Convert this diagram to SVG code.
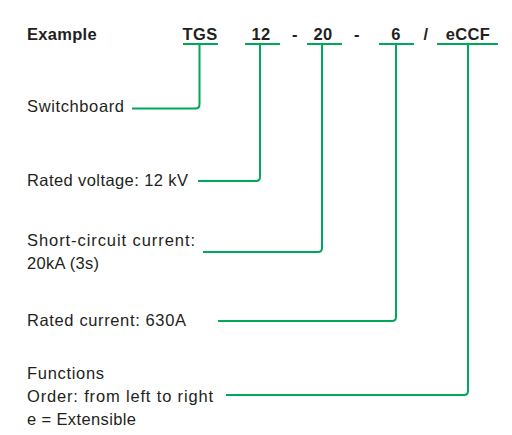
<svg xmlns="http://www.w3.org/2000/svg" width="512" height="435" viewBox="0 0 512 435">
<style>
text{font-family:"Liberation Sans",Arial,sans-serif;font-size:16.5px;fill:#231f20}
.b{font-weight:bold;text-anchor:middle;letter-spacing:0.4px}
.h{font-weight:bold;letter-spacing:0.4px}
.ln{fill:none;stroke:#00a85a;stroke-width:2}
</style>
<rect width="512" height="435" fill="#fff"/>
<g id="header">
<text class="h" x="27" y="40" textLength="70" lengthAdjust="spacing">Example</text>
<text class="b" x="200" y="40">TGS</text>
<text class="b" x="261" y="40">12</text>
<text class="b" x="295" y="40">-</text>
<text class="b" x="323" y="40">20</text>
<text class="b" x="357" y="40">-</text>
<text class="b" x="396" y="40">6</text>
<text class="b" x="426" y="40">/</text>
<text class="b" x="468" y="40">eCCF</text>
</g>
<g id="switchboard"><text x="27" y="112" textLength="97" lengthAdjust="spacing">Switchboard</text></g>
<g id="voltage"><text x="27" y="186" textLength="161" lengthAdjust="spacing">Rated voltage: 12 kV</text></g>
<g id="shortcircuit"><text x="27" y="246" textLength="168" lengthAdjust="spacing">Short-circuit current:</text><text x="27" y="269" textLength="72" lengthAdjust="spacing">20kA (3s)</text></g>
<g id="current"><text x="27" y="326" textLength="159" lengthAdjust="spacing">Rated current: 630A</text></g>
<g id="functions"><text x="27" y="379" textLength="77" lengthAdjust="spacing">Functions</text><text x="27" y="402" textLength="186" lengthAdjust="spacing">Order: from left to right</text><text x="27" y="425" textLength="109" lengthAdjust="spacing">e = Extensible</text></g>
<g id="connectors" class="ln">
<path class="ln" d="M183,44H218M245,44H280M307,44H342M379,44H414M437,44H498"/>
<path class="ln" d="M199.5,44V104.5Q199.5,108.5 195.5,108.5H132"/>
<path class="ln" d="M260,44V177Q260,181 256,181H198"/>
<path class="ln" d="M322,44V248Q322,252 318,252H203"/>
<path class="ln" d="M396,44V317Q396,321 392,321H218"/>
<path class="ln" d="M468,44V391Q468,395 464,395H226"/>
</g>
</svg>
